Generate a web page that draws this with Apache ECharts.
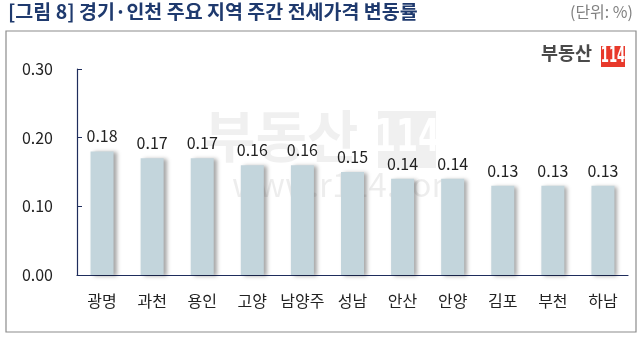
<!DOCTYPE html>
<html><head><meta charset="utf-8">
<script src="https://cdn.jsdelivr.net/npm/echarts@6/dist/echarts.min.js"></script>
<style>html,body{margin:0;padding:0;background:#fff}#c{width:642px;height:340px}</style>
</head><body><div id="c"></div>
<script>
const categories = ['광명','과천','용인','고양','남양주','성남','안산','안양','김포','부천','하남'];
const values = [0.18,0.17,0.17,0.16,0.16,0.15,0.14,0.14,0.13,0.13,0.13];
const yTicks = [0, 0.1, 0.2, 0.3];
const titleText = '[그림 8] 경기·인천 주요 지역 주간 전세가격 변동률';
const unitText = '(단위: %)';

const FONT = '"Noto Sans CJK KR", "Noto Sans", sans-serif';
const COND = '"DejaVu Sans Condensed", "Liberation Sans Narrow", sans-serif';
const chart = echarts.init(document.getElementById('c'), null, {renderer:'canvas'});
chart.setOption({
  animation:false,
  backgroundColor:'#fff',
  grid:{left:77, right:14, top:69, bottom:65},
  xAxis:{type:'category', data:categories,
    axisLine:{lineStyle:{color:'#1f2d5c', width:1.2}},
    axisTick:{inside:true, length:5, lineStyle:{color:'#1f2d5c'}},
    axisLabel:{interval:0, color:'#222', fontSize:16, fontFamily:FONT, margin:18}},
  yAxis:{type:'value', min:yTicks[0], max:yTicks[yTicks.length-1], interval:0.1,
    axisLine:{show:true, lineStyle:{color:'#1f2d5c', width:1.2}},
    axisTick:{show:true, inside:true, length:5, lineStyle:{color:'#1f2d5c'}},
    splitLine:{show:false},
    axisLabel:{color:'#222', fontSize:16, fontFamily:FONT, margin:24, formatter:v=>v.toFixed(2)}},
  graphic:[
    {type:'text', left:8, top:2, z:10, style:{text:titleText, fill:'#1f3a6e', font:'bold 19.5px '+FONT}},
    {type:'text', right:9, top:4, z:10, style:{text:unitText, fill:'#808080', font:'16px '+FONT}},
    {type:'rect', shape:{x:6, y:31, width:630, height:301}, z:-10, style:{fill:'none', stroke:'#8c8c8c', lineWidth:1.2}},
    // watermark
    {type:'text', x:204, y:108, z:-5, style:{text:'부동산', fill:'rgba(0,0,0,0.06)', font:'bold 56px '+FONT}},
    {type:'rect', shape:{x:378, y:111, width:58, height:57}, z:-5, style:{fill:'rgba(0,0,0,0.06)'}},
    {type:'text', x:407, y:140, z:-4, scaleX:0.8, style:{text:'114', fill:'rgba(255,255,255,0.95)', font:'bold 44px '+COND, align:'center', verticalAlign:'middle'}},
    {type:'text', x:232, y:168, z:-5, style:{text:'www.r114.com', fill:'rgba(0,0,0,0.07)', font:'33px '+FONT}},
    // logo
    {type:'text', x:541, y:44, z:10, style:{text:'부동산', fill:'#4a4a4a', font:'bold 18.5px '+FONT}},
    {type:'rect', shape:{x:601, y:46, width:24, height:21}, z:10, style:{fill:'#e8392b'}},
    {type:'text', x:613, y:57, z:11, scaleX:0.62, style:{text:'114', fill:'#fff', font:'bold 21px '+COND, align:'center', verticalAlign:'middle'}}
  ],
  series:[{type:'bar', data:values, barWidth:23,
    itemStyle:{color:'#c3d5dc', shadowColor:'rgba(0,0,0,0.35)', shadowBlur:4, shadowOffsetX:3, shadowOffsetY:1},
    label:{show:true, position:'top', distance:7, color:'#222', fontSize:16, fontFamily:FONT, formatter:p=>p.value.toFixed(2)}}]
});
</script></body></html>
